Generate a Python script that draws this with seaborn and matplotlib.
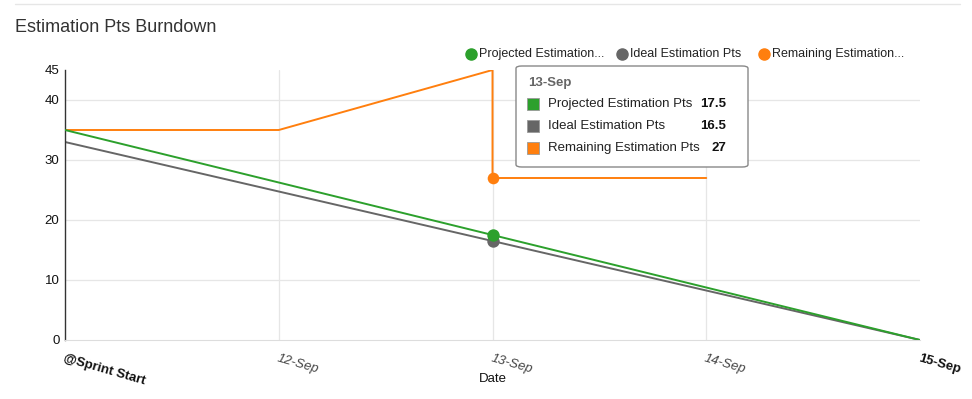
"""
plot.py — Estimation Pts Burndown (line chart with hover tooltip)

Output : out.png (972x399)
"""

import matplotlib
matplotlib.use("Agg")
import matplotlib.pyplot as plt
import seaborn as sns
from matplotlib.patches import FancyBboxPatch
from matplotlib.lines import Line2D

# ---------------------------------------------------------------------------
# Data
# ---------------------------------------------------------------------------
DATES = ["@Sprint Start", "12-Sep", "13-Sep", "14-Sep", "15-Sep"]

PROJECTED_X = [0, 1, 2, 3, 4]
PROJECTED = [35, 26.25, 17.5, 8.75, 0]

IDEAL_X = [0, 1, 2, 3, 4]
IDEAL = [33, 24.75, 16.5, 8.25, 0]

REMAINING_X = [0, 1, 2, 2, 3]
REMAINING = [35, 35, 45, 27, 27]

HOVER_IDX = 2
HOVER_VALUES = {"Projected Estimation Pts": 17.5,
                "Ideal Estimation Pts": 16.5,
                "Remaining Estimation Pts": 27}

GREEN = "#2ca02c"
GRAY = "#666666"
ORANGE = "#ff7f0e"

# ---------------------------------------------------------------------------
# Figure
# ---------------------------------------------------------------------------
sns.set_style("white")
plt.rcParams["font.family"] = ["Liberation Sans", "DejaVu Sans"]

fig = plt.figure(figsize=(9.72, 3.99), dpi=100)
ax = fig.add_axes([65 / 972, 1 - 340 / 399, 855 / 972, 270 / 399])

sns.lineplot(x=PROJECTED_X, y=PROJECTED, color=GREEN, lw=1.4, ax=ax,
             estimator=None, sort=False, zorder=3)
sns.lineplot(x=IDEAL_X, y=IDEAL, color=GRAY, lw=1.4, ax=ax,
             estimator=None, sort=False, zorder=2)
sns.lineplot(x=REMAINING_X, y=REMAINING, color=ORANGE, lw=1.4, ax=ax,
             estimator=None, sort=False, zorder=2)

# hover markers
ax.scatter([HOVER_IDX], [REMAINING[3]], s=70, color=ORANGE, zorder=5, lw=0)
ax.scatter([HOVER_IDX], [IDEAL[HOVER_IDX]], s=80, color=GRAY, zorder=5, lw=0)
ax.scatter([HOVER_IDX], [PROJECTED[HOVER_IDX]], s=80, color=GREEN, zorder=6, lw=0)

ax.set_xlim(0, 4)
ax.set_ylim(0, 45)
ax.set_yticks([0, 10, 20, 30, 40, 45])
ax.set_yticklabels(["0", "10", "20", "30", "40", "45"], fontsize=9.5, color="#111111")
ax.set_xticks(range(len(DATES)))
ax.set_xticklabels(DATES, rotation=-16, ha="left", va="top", fontsize=9.5,
                   rotation_mode="anchor")
for i, lbl in enumerate(ax.get_xticklabels()):
    if i in (0, len(DATES) - 1):
        lbl.set_fontweight("bold")
        lbl.set_color("#111111")
    else:
        lbl.set_fontstyle("italic")
        lbl.set_color("#444444")
ax.tick_params(axis="both", length=0, pad=4)
ax.tick_params(axis="x", pad=9)

for y in [10, 20, 30, 40]:
    ax.axhline(y, color="#e6e6e6", lw=0.9, zorder=0)
for x in [1, 2, 3]:
    ax.axvline(x, color="#e6e6e6", lw=0.9, zorder=0)

for side in ["top", "right"]:
    ax.spines[side].set_visible(False)
ax.spines["left"].set_color("#333333")
ax.spines["left"].set_linewidth(1.0)
ax.spines["bottom"].set_color("#dddddd")

ax.set_xlabel("Date", fontsize=9.5, color="#111111", labelpad=-10)
ax.set_ylabel("")

# ---- title and top rule ----------------------------------------------------
fig.add_artist(Line2D([15 / 972, 960 / 972], [1 - 4 / 399, 1 - 4 / 399],
                      color="#e6e6e6", lw=1))
fig.text(15 / 972, 1 - 27 / 399, "Estimation Pts Burndown", fontsize=13,
         color="#333333", va="center", ha="left")

# ---- legend ----------------------------------------------------------------
legend_items = [(GREEN, "Projected Estimation...", 471),
                (GRAY, "Ideal Estimation Pts", 622),
                (ORANGE, "Remaining Estimation...", 764)]
for color, text, px in legend_items:
    fig.add_artist(Line2D([px / 972], [1 - 54 / 399], marker="o", ms=8,
                          color=color, lw=0))
    fig.text((px + 8) / 972, 1 - 54 / 399, text, fontsize=9, color="#222222",
             va="center", ha="left")

# ---- tooltip ---------------------------------------------------------------
tx0, ty0, tw, th = 516, 66, 232, 101
box = FancyBboxPatch((tx0 / 972, 1 - (ty0 + th) / 399), tw / 972, th / 399,
                     boxstyle="round,pad=0,rounding_size=0.006",
                     transform=fig.transFigure, facecolor="white",
                     edgecolor="#888888", lw=1, zorder=10)
fig.add_artist(box)
fig.text(528 / 972, 1 - 83 / 399, DATES[HOVER_IDX], fontsize=9.5,
         color="#666666", fontweight="bold", va="center", ha="left", zorder=11)
rows = [(GREEN, "Projected Estimation Pts", 104),
        (GRAY, "Ideal Estimation Pts", 126),
        (ORANGE, "Remaining Estimation Pts", 148)]
for color, name, py in rows:
    fig.add_artist(Line2D([533 / 972], [1 - py / 399], marker="s", ms=8,
                          color=color, markeredgecolor="#999999",
                          markeredgewidth=0.6, lw=0, zorder=11))
    fig.text(548 / 972, 1 - py / 399, name, fontsize=9.5, color="#222222",
             va="center", ha="left", zorder=11)
    val = HOVER_VALUES[name]
    fig.text(726 / 972, 1 - py / 399, f"{val:g}", fontsize=9.5,
             color="#111111", fontweight="bold", va="center", ha="right",
             zorder=11)

fig.savefig("out.png", dpi=100)
plt.close(fig)
